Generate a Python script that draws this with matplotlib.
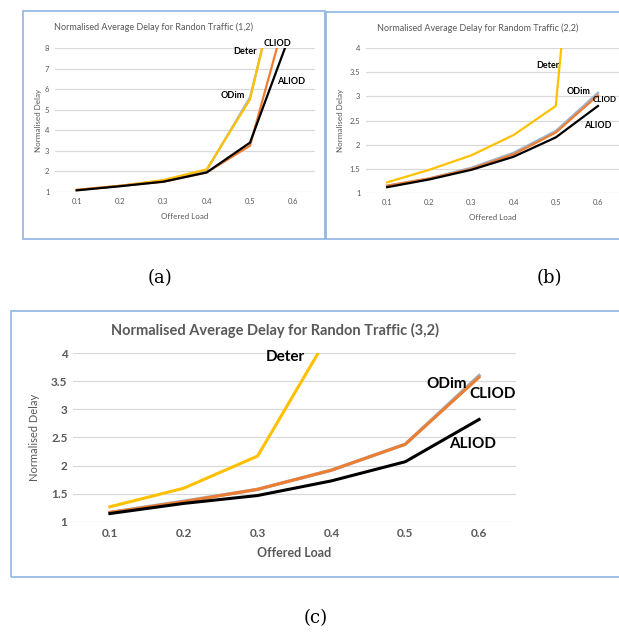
import numpy as np
import matplotlib
matplotlib.use("Agg")
import matplotlib.pyplot as plt
from matplotlib.patches import Rectangle

W, H = 619, 632

loads = [0.1, 0.2, 0.3, 0.4, 0.5, 0.6]

# panel (a): random traffic (1,2)
a_deter = [1.10, 1.30, 1.58, 2.10, 5.50, 14.5]
a_odim = [1.10, 1.30, 1.55, 2.05, 5.60, 14.0]
a_cliod = [1.10, 1.30, 1.50, 1.95, 3.25, 10.9]
a_aliod = [1.08, 1.28, 1.50, 1.95, 3.40, 9.1]

# panel (b): random traffic (2,2)
b_deter = [1.22, 1.48, 1.78, 2.20, 2.80, 12.0]
b_odim = [1.15, 1.30, 1.52, 1.83, 2.28, 3.07]
b_cliod = [1.15, 1.30, 1.50, 1.80, 2.25, 3.02]
b_aliod = [1.12, 1.28, 1.48, 1.75, 2.15, 2.80]

# panel (c): random traffic (3,2)
c_loads = [0.1, 0.2, 0.3, 0.4]
c_deter = [1.27, 1.60, 2.17, 4.40]
c_odim = [1.17, 1.37, 1.58, 1.92, 2.38, 3.60]
c_cliod = [1.17, 1.36, 1.58, 1.92, 2.38, 3.57]
c_aliod = [1.15, 1.33, 1.47, 1.73, 2.07, 2.82]

YELLOW = "#FFC000"
ORANGE = "#ED7D31"
ODIM = "#9FB3CC"
BLACK = "#000000"
GRID = "#D9D9D9"
TXT = "#595959"
FRAME = "#8EB4E3"

plt.rcParams["font.family"] = ["Lato", "DejaVu Sans"]


def px_axes(fig, left, top, right, bottom):
    return fig.add_axes([left / W, 1 - bottom / H, (right - left) / W, (bottom - top) / H])


def frame(fig, left, top, right, bottom):
    fig.patches.append(Rectangle((left / W, 1 - bottom / H), (right - left) / W,
                                 (bottom - top) / H, transform=fig.transFigure,
                                 fill=False, edgecolor=FRAME, linewidth=1.2))


def style(ax, ymax, ystep, fs, bold=False):
    ax.set_xlim(0.05, 0.65)
    ax.set_ylim(1, ymax)
    ax.set_xticks(loads)
    ax.set_xticklabels([f"{v:.1f}" for v in loads])
    yt = np.arange(1, ymax + 0.01, ystep)
    ax.set_yticks(yt)
    ax.set_yticklabels([f"{v:g}" for v in yt])
    ax.tick_params(length=0, labelsize=fs, colors=TXT, pad=4)
    for lab in ax.get_xticklabels() + ax.get_yticklabels():
        lab.set_fontweight("bold" if bold else "normal")
    for s in ax.spines.values():
        s.set_visible(False)
    ax.grid(axis="y", color=GRID, linewidth=0.9)
    ax.set_axisbelow(True)
    ax.patch.set_alpha(0)


fig = plt.figure(figsize=(W / 100, H / 100), dpi=100)

# ---- (a)
frame(fig, 23, 11, 325, 239)
axA = px_axes(fig, 55, 48, 315, 192)
style(axA, 8, 1, 5.5)
axA.plot(loads, a_odim, color=ODIM, lw=1.6)
axA.plot(loads, a_deter, color=YELLOW, lw=1.6)
axA.plot(loads, a_cliod, color=ORANGE, lw=1.6)
axA.plot(loads, a_aliod, color=BLACK, lw=1.6)
fig.text(153 / W, 1 - 27 / H, "Normalised Average Delay for Randon Traffic (1,2)",
         ha="center", va="center", fontsize=6.5, color=TXT)
axA.set_xlabel("Offered Load", fontsize=5.8, color=TXT, labelpad=6)
axA.set_ylabel("Normalised Delay", fontsize=5.8, color=TXT, labelpad=2)
for name, x, y, ha in [("Deter", 257, 51, "right"), ("CLIOD", 264, 43, "left"),
                       ("ODim", 245, 95, "right"), ("ALIOD", 277, 81, "left")]:
    fig.text(x / W, 1 - y / H, name, ha=ha, va="center", fontsize=6.6, fontweight="bold")

# ---- (b)
frame(fig, 326, 12, 640, 239)
axB = px_axes(fig, 366, 48, 619, 193)
style(axB, 4, 0.5, 5.5)
axB.plot(loads, b_deter, color=YELLOW, lw=1.6)
axB.plot(loads, b_odim, color=ODIM, lw=1.8)
axB.plot(loads, b_cliod, color=ORANGE, lw=1.6)
axB.plot(loads, b_aliod, color=BLACK, lw=1.6)
fig.text(478 / W, 1 - 28 / H, "Normalised Average Delay for Random Traffic (2,2)",
         ha="center", va="center", fontsize=6.5, color=TXT)
axB.set_xlabel("Offered Load", fontsize=5.8, color=TXT, labelpad=6)
axB.set_ylabel("Normalised Delay", fontsize=5.8, color=TXT, labelpad=4)
for name, x, y, ha, fs in [("Deter", 559, 65, "right", 6.4), ("ODim", 567, 92, "left", 6.4),
                           ("CLIOD", 617, 100, "right", 5.8), ("ALIOD", 584, 126, "left", 6.4)]:
    fig.text(x / W, 1 - y / H, name, ha=ha, va="center", fontsize=fs, fontweight="bold")

# ---- (c)
frame(fig, 11, 311, 640, 577)
axC = px_axes(fig, 73, 353, 516, 522)
style(axC, 4, 0.5, 8.5, bold=True)
axC.plot(c_loads, c_deter, color=YELLOW, lw=2.2)
axC.plot(loads, c_odim, color=ODIM, lw=2.4)
axC.plot(loads, c_cliod, color=ORANGE, lw=2.2)
axC.plot(loads, c_aliod, color=BLACK, lw=2.2)
fig.text(275 / W, 1 - 330 / H, "Normalised Average Delay for Randon Traffic (3,2)",
         ha="center", va="center", fontsize=10.5, fontweight="bold", color=TXT)
axC.set_xlabel("Offered Load", fontsize=9, fontweight="bold", color=TXT, labelpad=6)
axC.set_ylabel("Normalised Delay", fontsize=8, color=TXT, labelpad=8)
for name, x, y, ha in [("Deter", 285, 357, "center"), ("ODim", 447, 384, "center"),
                       ("CLIOD", 493, 394, "center"), ("ALIOD", 473, 444, "center")]:
    fig.text(x / W, 1 - y / H, name, ha=ha, va="center", fontsize=11, fontweight="bold")

# ---- captions
for lab, x, y in [("(a)", 160, 278), ("(b)", 549, 278), ("(c)", 316, 618)]:
    fig.text(x / W, 1 - y / H, lab, ha="center", va="center", fontsize=13,
             family="DejaVu Serif")

fig.savefig("out.png", dpi=100, facecolor="white")
